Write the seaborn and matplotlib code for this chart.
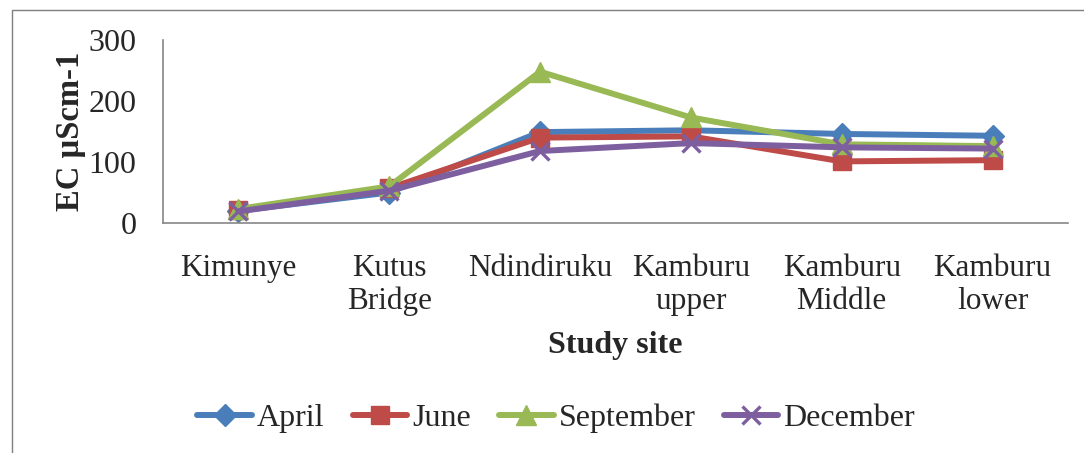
import numpy as np
import pandas as pd
import matplotlib
matplotlib.use("Agg")
import matplotlib.pyplot as plt
import seaborn as sns
from matplotlib.patches import Rectangle
from matplotlib.ticker import FixedLocator, NullFormatter

# Data
sites = ["Kimunye", "Kutus\nBridge", "Ndindiruku", "Kamburu\nupper", "Kamburu\nMiddle", "Kamburu\nlower"]
april = [20, 50, 149, 152, 146, 143]
june = [21, 57, 140, 142, 101, 103]
september = [23, 60, 248, 173, 129, 126]
december = [19, 53, 118, 131, 124, 122]

months = ["April", "June", "September", "December"]
series = [april, june, september, december]
colors = ["#4A7EBB", "#BE4B48", "#98B954", "#7D5FA0"]
markers = ["D", "s", "^", "x"]
msizes = [11, 13, 14, 13]

sns.set_style("white")
plt.rcParams['font.family'] = ['Liberation Serif', 'DejaVu Serif']

fig = plt.figure(figsize=(10.84, 4.53), dpi=100)
ax = fig.add_axes([163 / 1084, 1 - 223 / 453, (1068 - 163) / 1084, (223 - 40) / 453])

x = np.arange(len(sites))
for name, vals, c, m, ms in zip(months, series, colors, markers, msizes):
    sns.lineplot(x=x, y=vals, ax=ax, color=c, marker=m, markersize=ms,
                 markeredgecolor=c, markeredgewidth=2.4 if m == "x" else 1,
                 linewidth=4.3, label=name, legend=False)

ax.set_xlim(-0.5, len(sites) - 0.5)
ax.set_ylim(0, 300)
ax.set_yticks([0, 100, 200, 300])
ax.set_xticks(x)
ax.set_xticklabels(sites, fontsize=22.5, linespacing=1.18)
ax.xaxis.set_minor_locator(FixedLocator(np.arange(-0.5, len(sites), 1)))
ax.xaxis.set_minor_formatter(NullFormatter())
ax.tick_params(axis="x", which="major", length=0, pad=22)
ax.tick_params(axis="x", which="minor", length=7, width=1.2, color="#868686", direction="out")
ax.tick_params(axis="y", length=7, width=1.2, color="#868686", direction="out", labelsize=23, pad=12)

for side in ["top", "right"]:
    ax.spines[side].set_visible(False)
for side in ["left", "bottom"]:
    ax.spines[side].set_color("#868686")
    ax.spines[side].set_linewidth(1.2)

ax.set_xlabel("Study site", fontsize=23, fontweight="bold", labelpad=11)
ax.set_ylabel("EC µScm-1", fontsize=23.5, fontweight="bold", labelpad=2)

handles, labels = ax.get_legend_handles_labels()
fig.legend(handles, labels, loc="center", bbox_to_anchor=(0.513, 1 - 418 / 453),
           ncol=4, frameon=False, fontsize=23, handlelength=1.7,
           handletextpad=0.15, columnspacing=0.9)

# outer frame of the chart area
fig.patches.append(Rectangle((12 / 1084, -0.2), 1.2, 1.2 - 10 / 453,
                             transform=fig.transFigure, fill=False,
                             edgecolor="#7f7f7f", linewidth=1.0))

fig.savefig("out.png", dpi=100)
